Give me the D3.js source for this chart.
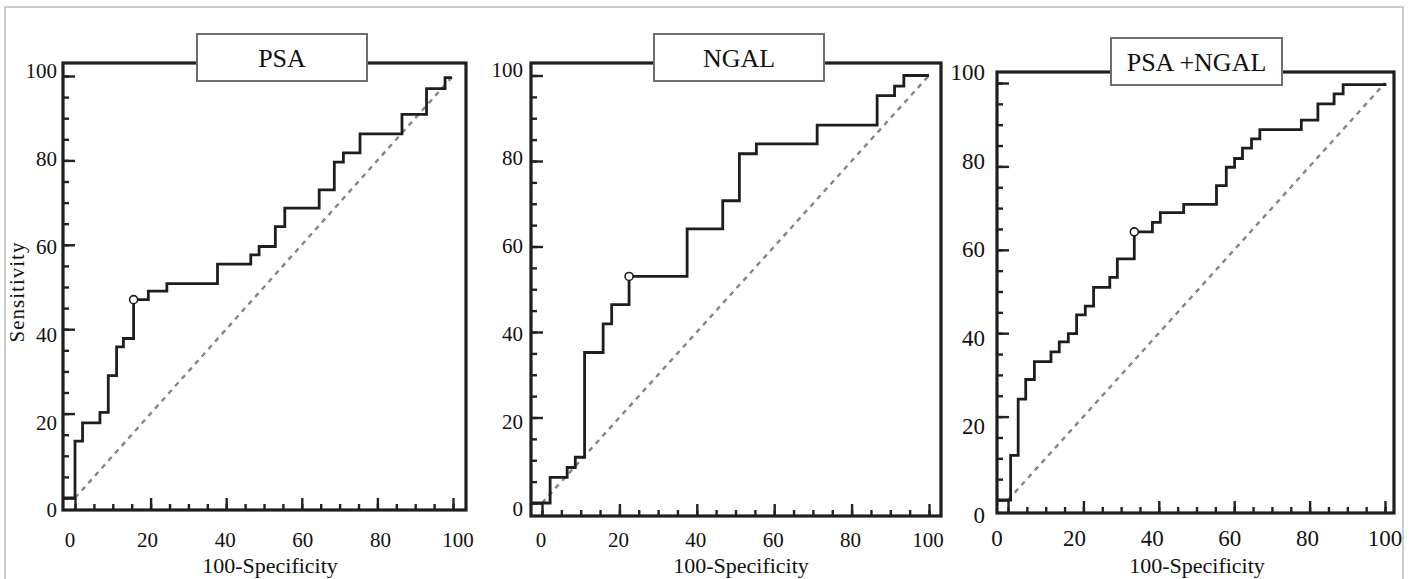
<!DOCTYPE html>
<html>
<head>
<meta charset="utf-8">
<title>ROC curves</title>
<script src="https://d3js.org/d3.v7.min.js"></script>
<style>
  body { margin: 0; background: #fff; }
  svg text { font-family: "Liberation Serif", "Times New Roman", serif; fill: #111; }
</style>
</head>
<body>
<div id="chart"></div>
<script>
var titles = ["PSA", "NGAL", "PSA +NGAL"]
var tickLabels = [0, 20, 40, 60, 80, 100]

// step corners: 100-specificity where the step happens, sensitivity after it
var psaFpr  = [-3, 0, 2.0, 6.6, 8.8, 11.0, 12.8, 15.5, 19.4, 24.3, 37.7, 46.5, 48.7, 53.0, 55.5, 64.6, 68.6, 71.0, 75.4, 86.5, 93.0, 97.9, 99.7]
var psaSens = [0, 13.5, 17.8, 20.3, 29.0, 35.8, 37.8, 47.0, 49.0, 50.8, 55.4, 57.6, 59.6, 64.3, 68.7, 73.0, 79.6, 81.8, 86.3, 90.9, 97.0, 99.6, 99.6]

var ngalFpr  = [-3, 2.1, 6.5, 8.6, 11.0, 15.8, 18.0, 22.5, 37.5, 46.7, 51.0, 55.4, 71.1, 86.6, 91.1, 93.5, 100]
var ngalSens = [0, 6.0, 8.3, 10.7, 35.2, 41.9, 46.4, 53.0, 64.1, 70.7, 81.7, 84.0, 88.4, 95.3, 97.5, 100, 100]

var bothFpr  = [-3, 0.7, 2.7, 4.7, 7.0, 11.4, 13.6, 16.0, 18.2, 20.5, 22.7, 27.0, 29.0, 33.5, 38.3, 40.4, 46.6, 55.3, 57.9, 60.1, 62.2, 64.6, 66.8, 77.8, 82.2, 86.5, 88.9, 100]
var bothSens = [0, 10.7, 24.2, 28.9, 33.2, 35.5, 37.9, 39.9, 44.4, 46.5, 51.0, 53.4, 57.8, 64.3, 66.6, 68.9, 70.9, 75.4, 79.8, 81.9, 84.4, 86.6, 88.8, 91.1, 95.0, 97.4, 99.6, 100]

// optimal criterion point on each curve
var cutFpr  = [15.5, 22.5, 33.5]
var cutSens = [47.0, 53.0, 64.3]

var curves = [[psaFpr, psaSens], [ngalFpr, ngalSens], [bothFpr, bothSens]]

// where each panel sits on the page (frame, data range, tick label range)
var layout = [
  {fl: 63,  fr: 466,  ft: 63, fb: 510, x0: 75,   x1: 453,  y0: 498, y1: 76,   lx0: 70,  lx1: 458,  ly0: 510, ly1: 71, lxy: 540, lr: 57,  fs: 21, box: [197, 34, 170, 47],  tx: 270,  first: true},
  {fl: 531, fr: 941,  ft: 63, fb: 516, x0: 542,  x1: 929,  y0: 503, y1: 75.5, lx0: 541, lx1: 928,  ly0: 509, ly1: 70, lxy: 540, lr: 523, fs: 21, box: [654, 34, 170, 47],  tx: 741},
  {fl: 997, fr: 1394, ft: 72, fb: 513, x0: 1008, x1: 1385, y0: 500, y1: 83,   lx0: 997, lx1: 1385, ly0: 515, ly1: 72, lxy: 538, lr: 985, fs: 23, box: [1111, 38, 171, 47], tx: 1197}
]

var svg = d3.select('#chart').append('svg')
  .attr('width', 1414)
  .attr('height', 579)

svg.append('rect')
  .attr('x', 5).attr('y', 7)
  .attr('width', 1398).attr('height', 620)
  .attr('fill', 'none')
  .attr('stroke', '#9a9a9a')
  .attr('stroke-width', 1)

layout.forEach(function(p, i){
  var x = d3.scaleLinear().domain([0, 100]).range([p.x0, p.x1])
  var y = d3.scaleLinear().domain([0, 100]).range([p.y0, p.y1])
  var xl = d3.scaleLinear().domain([0, 100]).range([p.lx0, p.lx1])
  var yl = d3.scaleLinear().domain([0, 100]).range([p.ly0, p.ly1])
  var g = svg.append('g')

  // inward ticks, minor every 5 and major every 20
  var minor = d3.range(0, 101, 5), major = tickLabels
  ;[[minor, 6], [major, 12]].forEach(function(t){
    g.append('g')
      .attr('transform', 'translate(0,' + p.fb + ')')
      .call(d3.axisBottom(x).tickValues(t[0]).tickSize(-t[1]).tickFormat(''))
    g.append('g')
      .attr('transform', 'translate(' + p.fl + ',0)')
      .call(d3.axisLeft(y).tickValues(t[0]).tickSize(-t[1]).tickFormat(''))
  })
  g.selectAll('.domain').remove()
  g.selectAll('.tick line').attr('stroke', '#222').attr('stroke-width', 2.4)

  // chance diagonal
  g.append('line')
    .attr('x1', x(0)).attr('y1', y(0))
    .attr('x2', x(100)).attr('y2', y(100))
    .attr('stroke', '#858585')
    .attr('stroke-width', 2.4)
    .attr('stroke-dasharray', '5,5')

  var pts = d3.zip(curves[i][0], curves[i][1])
  var line = d3.line()
    .x(function(d){ return x(d[0]) })
    .y(function(d){ return y(d[1]) })
    .curve(d3.curveStepAfter)

  g.append('path')
    .attr('d', line(pts))
    .attr('fill', 'none')
    .attr('stroke', '#1e1e1e')
    .attr('stroke-width', 2.8)

  g.append('circle')
    .attr('cx', x(cutFpr[i])).attr('cy', y(cutSens[i]))
    .attr('r', 4)
    .attr('fill', '#fff')
    .attr('stroke', '#1e1e1e')
    .attr('stroke-width', 1.6)

  g.append('rect')
    .attr('x', p.fl).attr('y', p.ft)
    .attr('width', p.fr - p.fl).attr('height', p.fb - p.ft)
    .attr('fill', 'none')
    .attr('stroke', '#1e1e1e')
    .attr('stroke-width', 3.2)

  // tick labels
  g.selectAll('.yl').data(tickLabels).enter().append('text')
    .attr('x', p.lr).attr('y', function(d){ return yl(d) })
    .attr('dy', '0.35em')
    .attr('text-anchor', 'end')
    .style('font-size', p.fs + 'px')
    .text(function(d){ return d })

  g.selectAll('.xl').data(tickLabels).enter().append('text')
    .attr('x', function(d){ return xl(d) }).attr('y', p.lxy)
    .attr('dy', '0.35em')
    .attr('text-anchor', 'middle')
    .style('font-size', p.fs + 'px')
    .text(function(d){ return d })

  g.append('text')
    .attr('x', p.tx).attr('y', 573)
    .attr('text-anchor', 'middle')
    .style('font-size', '22px')
    .text('100-Specificity')

  if (p.first) {
    g.append('text')
      .attr('transform', 'translate(24,292) rotate(-90)')
      .attr('text-anchor', 'middle')
      .style('font-size', '21px')
      .style('letter-spacing', '1px')
      .text('Sensitivity')
  }

  // title box over the top edge
  g.append('rect')
    .attr('x', p.box[0]).attr('y', p.box[1])
    .attr('width', p.box[2]).attr('height', p.box[3])
    .attr('fill', '#fff')
    .attr('stroke', '#6e6e6e')
    .attr('stroke-width', 2)

  g.append('text')
    .attr('x', p.box[0] + p.box[2] / 2).attr('y', p.box[1] + p.box[3] / 2)
    .attr('dy', '0.35em')
    .attr('text-anchor', 'middle')
    .style('font-size', '26px')
    .text(titles[i])
})
</script>
</body>
</html>
